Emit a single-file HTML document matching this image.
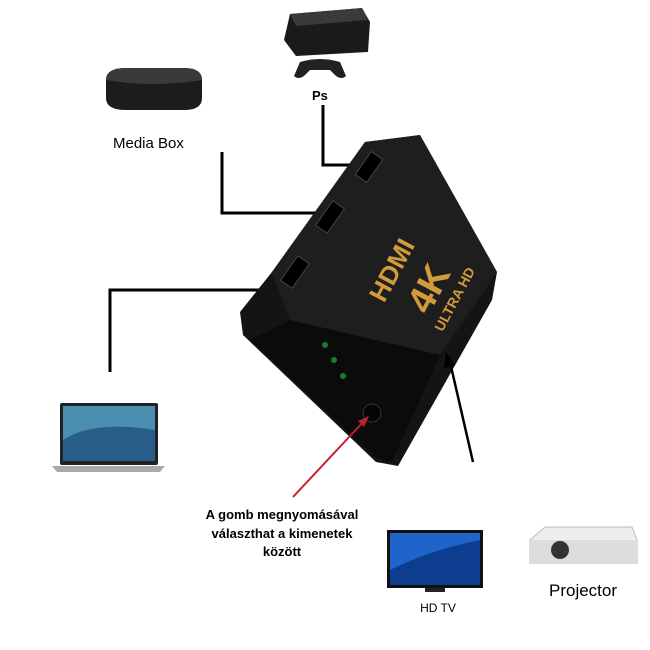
<!DOCTYPE html>
<html><head><meta charset="utf-8"><style>
html,body{margin:0;padding:0;background:#fff;}
svg{display:block;}
text{font-family:"Liberation Sans",sans-serif;}
</style></head><body>
<svg width="650" height="650" viewBox="0 0 650 650" xmlns="http://www.w3.org/2000/svg">
<rect width="650" height="650" fill="#fff"/>
<!-- PS console -->
<polygon points="290,14 362,8 370,22 368,52 296,56 284,40" fill="#1a1a1a"/>
<polygon points="290,14 362,8 368,20 296,26" fill="#3a3a3a"/>
<path d="M300,62 q20,-6 40,0 l6,14 q-4,4 -10,0 l-6,-6 h-20 l-6,6 q-6,4 -10,0z" fill="#222"/>
<text x="312" y="100" font-size="13" font-weight="bold">Ps</text>
<!-- Media box -->
<path d="M106,80 q0,-12 20,-12 h58 q18,0 18,12 v18 q0,12 -18,12 h-58 q-20,0 -20,-12z" fill="#1c1c1c"/>
<path d="M106,80 q0,-12 20,-12 h58 q18,0 18,12 q-48,8 -96,0z" fill="#3a3a3a"/>
<text x="113" y="148" font-size="15">Media Box</text>
<!-- Lines -->
<polyline points="323,105 323,165 360,165" fill="none" stroke="#000" stroke-width="3"/>
<polyline points="222,152 222,213 336,213" fill="none" stroke="#000" stroke-width="3"/>
<polyline points="110,372 110,290 287,290" fill="none" stroke="#000" stroke-width="3"/>
<!-- Switch -->
<polygon points="365,142 420,135 497,272 492,300 398,466 376,462 243,335 240,312 272,272" fill="#141414"/>
<polygon points="290,320 440,355 392,462 376,458 250,340" fill="#0b0b0b"/>
<polygon points="365,142 420,135 497,272 440,355 290,320 272,272" fill="#1e1e1e"/>
<rect x="355" y="160" width="28" height="14" fill="#000" stroke="#444" transform="rotate(-55 369 167)"/>
<rect x="315" y="210" width="30" height="14" fill="#000" stroke="#444" transform="rotate(-55 330 217)"/>
<rect x="280" y="265" width="30" height="14" fill="#000" stroke="#444" transform="rotate(-55 295 272)"/>
<g fill="#d39a3a" font-weight="bold" transform="rotate(-62 430 260)">
<text x="370" y="240" font-size="26">HDMI</text>
<text x="380" y="285" font-size="38">4K</text>
<text x="372" y="305" font-size="14">ULTRA HD</text>
</g>
<circle cx="325" cy="345" r="3" fill="#1a7a3a"/><circle cx="334" cy="360" r="3" fill="#1a7a3a"/><circle cx="343" cy="376" r="3" fill="#1a7a3a"/>
<circle cx="372" cy="413" r="9" fill="#050505" stroke="#333"/>
<!-- Projector arrow -->
<line x1="473" y1="462" x2="450" y2="362" stroke="#000" stroke-width="2.5"/>
<polygon points="446,352 444,368 455,365" fill="#000"/>
<!-- red arrow -->
<line x1="293" y1="497" x2="365" y2="420" stroke="#c0202a" stroke-width="2"/>
<polygon points="369,416 358,421 364,427" fill="#c0202a"/>
<!-- Laptop -->
<rect x="60" y="403" width="98" height="62" rx="2" fill="#222"/>
<rect x="63" y="406" width="92" height="55" fill="#4a8fb0"/>
<path d="M63,440 q30,-20 92,-10 v31 h-92z" fill="#2a5e8a"/>
<polygon points="52,466 165,466 160,472 57,472" fill="#aaa"/>
<!-- Text -->
<g font-size="13" font-weight="bold" text-anchor="middle">
<text x="282" y="519">A gomb megnyomásával</text>
<text x="282" y="538">választhat a kimenetek</text>
<text x="282" y="556">között</text>
</g>
<!-- TV -->
<rect x="387" y="530" width="96" height="58" fill="#111"/>
<rect x="390" y="533" width="90" height="52" fill="#1f64c8"/>
<path d="M390,570 q40,-20 90,-30 v45 h-90z" fill="#0d3d8e"/>
<rect x="425" y="588" width="20" height="4" fill="#222"/>
<text x="438" y="612" font-size="12" text-anchor="middle">HD TV</text>
<!-- Projector -->
<polygon points="530,540 545,527 632,527 637,540 637,563 530,563" fill="#eee" stroke="#bbb"/>
<rect x="530" y="540" width="107" height="23" fill="#ddd"/>
<circle cx="560" cy="550" r="9" fill="#333"/>
<text x="583" y="596" font-size="17" text-anchor="middle">Projector</text>
</svg>
</body></html>
